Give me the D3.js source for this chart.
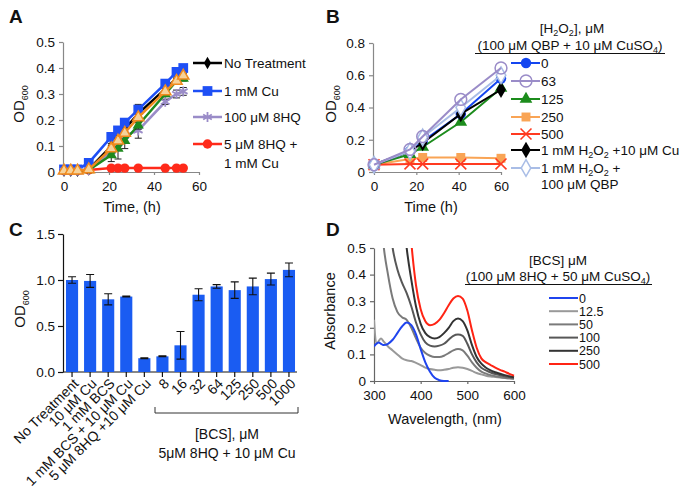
<!DOCTYPE html>
<html><head><meta charset="utf-8">
<script src="https://cdn.jsdelivr.net/npm/d3@7"></script>
<style>body{margin:0;background:#fff}</style>
</head><body><svg id="c" width="690" height="499"></svg>
<script>
// ---------- Panel A data ----------
const timesA = [0,3,6,11,21,24,27,33,45,50,53];
const aNoTreatment = [0.005,0.005,0.005,0.01,0.10,0.13,0.165,0.225,0.32,0.36,0.38];
const aNoTreatmentErr = [0,0,0,0,0.01,0.01,0.01,0.035,0.01,0.01,0.01];
const aCu1mM = [0.01,0.01,0.01,0.035,0.135,0.16,0.19,0.24,0.34,0.385,0.40];
const aCu1mMErr = [0,0,0,0,0.01,0.01,0.01,0.01,0.01,0.01,0.01];
const aHQ100 = [0.005,0.005,0.005,0.008,0.08,0.11,0.14,0.16,0.27,0.30,0.31];
const aHQ100Err = [0,0,0,0,0.01,0.01,0.01,0.03,0.01,0.015,0.015];
const aHQCu = [0.005,0.005,0.005,0.008,0.015,0.015,0.015,0.015,0.015,0.015,0.015];
const aGreen = [0.005,0.005,0.005,0.008,0.065,0.09,0.12,0.18,0.30,0.35,0.36];
const aGreenErr = [0,0,0,0,0.025,0.04,0.03,0.015,0.01,0.01,0.01];
const aOrange = [0.005,0.005,0.005,0.01,0.09,0.12,0.15,0.21,0.31,0.35,0.37];
const ticksA_y = [0,0.1,0.2,0.3,0.4,0.5];
const ticksA_x = [0,20,40,60];

// ---------- Panel B data ----------
const timesB = [0,17,23,41,60];
const bH2O2_0 = [0.045,0.13,0.19,0.36,0.58];
const bH2O2_63 = [0.045,0.14,0.22,0.45,0.645];
const bH2O2_125 = [0.045,0.11,0.155,0.31,0.52];
const bH2O2_250 = [0.045,0.08,0.09,0.09,0.085];
const bH2O2_500 = [0.045,0.05,0.05,0.05,0.05];
const bH2O2Cu = [0.045,0.13,0.18,0.36,0.51];
const bH2O2QBP = [0.045,0.13,0.215,0.40,0.60];
const ticksB_y = [0,0.2,0.4,0.6,0.8];
const ticksB_x = [0,20,40,60];

// ---------- Panel C data ----------
const catsC = ["No Treatment","10 \u03bcM Cu","1 mM BCS","1 mM BCS + 10 \u03bcM Cu","5 \u03bcM 8HQ +10 \u03bcM Cu","8","16","32","64","125","250","500","1000"];
const valsC = [1.00,0.99,0.79,0.82,0.15,0.17,0.29,0.84,0.93,0.89,0.93,1.01,1.11];
const errC = [0.035,0.07,0.06,0.005,0.005,0.005,0.15,0.065,0.02,0.09,0.09,0.065,0.075];
const ticksC_y = [0,0.5,1.0,1.5];

// ---------- Panel D data ----------
const wlD = [300,305,310,315,320,330,340,350,360,370,380,390,400,410,420,430,440,450,460,470,480,490,500,510,520,530,540,550,560,570,580,590,600];
const dBCS0 = [0.13,0.14,0.145,0.14,0.135,0.14,0.155,0.18,0.205,0.22,0.21,0.175,0.12,0.07,0.035,0.012,0.003,0,0,null,null,null,null,null,null,null,null,null,null,null,null,null,null];
const dBCS12 = [0.23,0.14,0.15,0.16,0.15,0.13,0.115,0.10,0.085,0.078,0.075,0.068,0.06,0.05,0.045,0.042,0.04,0.042,0.045,0.05,0.052,0.05,0.045,0.038,0.03,0.025,0.02,0.017,0.015,0.013,0.011,0.01,0.008];
const dBCS50 = [1.0,0.88,0.75,0.63,0.52,0.40,0.31,0.26,0.24,0.23,0.20,0.16,0.125,0.105,0.095,0.09,0.09,0.095,0.105,0.115,0.12,0.115,0.095,0.07,0.05,0.035,0.028,0.022,0.018,0.015,0.012,0.01,0.008];
const dBCS100 = [1.4,1.25,1.1,0.97,0.85,0.65,0.5,0.42,0.37,0.33,0.28,0.22,0.175,0.145,0.133,0.13,0.133,0.14,0.155,0.17,0.175,0.17,0.14,0.10,0.07,0.05,0.04,0.032,0.026,0.022,0.018,0.015,0.012];
const dBCS250 = [2.2,2.0,1.85,1.7,1.55,1.3,1.1,0.9,0.68,0.5,0.38,0.28,0.215,0.18,0.165,0.16,0.165,0.18,0.2,0.225,0.235,0.225,0.19,0.135,0.09,0.065,0.05,0.04,0.033,0.027,0.022,0.018,0.014];
const dBCS500 = [3,2.8,2.6,2.4,2.2,1.9,1.6,1.3,1.0,0.75,0.52,0.36,0.27,0.225,0.21,0.215,0.23,0.255,0.285,0.31,0.32,0.31,0.265,0.19,0.125,0.085,0.07,0.06,0.05,0.042,0.035,0.027,0.02];
const legendD = ["0","12.5","50","100","250","500"];
const ticksD_y = [0,0.1,0.2,0.3,0.4,0.5];
const ticksD_x = [300,400,500,600];

const FONT = '"Liberation Sans", Arial, Helvetica, sans-serif';
const svg = d3.select("#c").attr("font-family", FONT);

function styleAxis(g, col) {
  g.attr("font-family", FONT).attr("font-size", 13.5);
  g.select(".domain").attr("stroke", col).attr("stroke-width", 1.2);
  g.selectAll(".tick line").attr("stroke", col).attr("stroke-width", 1.2);
  g.selectAll(".tick text").attr("fill", "#111");
}
const fmt1 = d => d === 0 ? "0" : d3.format(".1f")(d);

function odLabel(x, y) {
  const t = svg.append("text").attr("transform", `translate(${x},${y}) rotate(-90)`)
    .attr("text-anchor", "middle").attr("font-size", 15).attr("fill", "#111");
  t.append("tspan").text("OD");
  t.append("tspan").attr("font-size", 9).attr("dy", 4).text("600");
  return t;
}
function letter(s, x, y) {
  svg.append("text").attr("x", x).attr("y", y).attr("font-weight", "bold").attr("font-size", 19).attr("fill", "#111").text(s);
}
function drawSym(g, x, y, s) {
  const p = g.append("path").attr("transform", `translate(${x},${y})`)
    .attr("d", d3.symbol().type(s.sym).size(s.size)());
  if (s.open) p.attr("fill", s.fill || "#fff").attr("stroke", s.color).attr("stroke-width", s.sw || 1.5);
  else if (s.strokeOnly) p.attr("fill", "none").attr("stroke", s.color).attr("stroke-width", s.sw || 1.8);
  else p.attr("fill", s.color).attr("stroke", "none");
}

// ================= Panel A =================
letter("A", 9, 23);
const xA = d3.scaleLinear().domain([0, 60]).range([64, 199]);
const yA = d3.scaleLinear().domain([0, 0.5]).range([172, 42]);
styleAxis(svg.append("g").attr("transform", "translate(63,0)")
  .call(d3.axisLeft(yA).tickValues(ticksA_y).tickFormat(fmt1).tickSize(4).tickSizeOuter(0).tickPadding(4)), "#888");
styleAxis(svg.append("g").attr("transform", "translate(0,172)")
  .call(d3.axisBottom(xA).tickValues(ticksA_x).tickSize(3).tickSizeOuter(0).tickPadding(6)), "#888");
svg.append("text").attr("x", 132).attr("y", 212).attr("text-anchor", "middle").attr("font-size", 14.5).attr("fill", "#111").text("Time, (h)");
odLabel(24, 104);

const seriesA = [
  {v: aHQCu, e: null, color: "#ff2a1a", sym: d3.symbolCircle, size: 70},
  {v: aNoTreatment, e: aNoTreatmentErr, color: "#000", sym: d3.symbolDiamond, size: 45},
  {v: aCu1mM, e: aCu1mMErr, color: "#1e4ff5", sym: d3.symbolSquare, size: 95},
  {v: aHQ100, e: aHQ100Err, color: "#9a8cc8", sym: d3.symbolAsterisk, size: 70, strokeOnly: true},
  {v: aGreen, e: aGreenErr, color: "#1e8a1e", sym: d3.symbolTriangle, size: 55},
  {v: aOrange, e: null, color: "#f08a1e", sym: d3.symbolTriangle, size: 55, open: true, fill: "#f6d29a"}
];
const gA = svg.append("g");
seriesA.forEach(s => {
  const pts = timesA.map((t, i) => [t, s.v[i]]);
  gA.append("path").attr("d", d3.line().x(d => xA(d[0])).y(d => yA(d[1]))(pts))
    .attr("fill", "none").attr("stroke", s.color).attr("stroke-width", 2.5);
  if (s.e) pts.forEach((d, i) => {
    if (!s.e[i]) return;
    const x = xA(d[0]), y1 = yA(d[1] - s.e[i]), y2 = yA(d[1] + s.e[i]);
    gA.append("path").attr("d", `M${x},${y1}V${y2}M${x-3.5},${y1}h7M${x-3.5},${y2}h7`).attr("stroke", "#222").attr("stroke-width", 1);
  });
  pts.forEach(d => drawSym(gA, xA(d[0]), yA(d[1]), s));
});
const legA = [
  {s: seriesA[1], y: 63, t: ["No Treatment"]},
  {s: seriesA[2], y: 91, t: ["1 mM Cu"]},
  {s: seriesA[3], y: 117, t: ["100 \u03bcM 8HQ"]},
  {s: seriesA[0], y: 144, t: ["5 \u03bcM 8HQ +", "1 mM Cu"]}
];
legA.forEach(l => {
  svg.append("line").attr("x1", 193).attr("x2", 222).attr("y1", l.y).attr("y2", l.y).attr("stroke", l.s.color).attr("stroke-width", 2.5);
  drawSym(svg, 207.5, l.y, l.s);
  l.t.forEach((tt, k) => svg.append("text").attr("x", 224).attr("y", l.y + 5 + k * 18.5).attr("font-size", 13.5).attr("fill", "#111").text(tt));
});

// ================= Panel B =================
letter("B", 326, 23);
const xB = d3.scaleLinear().domain([0, 60]).range([374, 501]);
const yB = d3.scaleLinear().domain([0, 0.8]).range([172, 43]);
styleAxis(svg.append("g").attr("transform", "translate(373,0)")
  .call(d3.axisLeft(yB).tickValues(ticksB_y).tickFormat(fmt1).tickSize(4).tickSizeOuter(0).tickPadding(4)), "#888");
styleAxis(svg.append("g").attr("transform", "translate(0,172)")
  .call(d3.axisBottom(xB).tickValues(ticksB_x).tickSize(3).tickSizeOuter(0).tickPadding(6)), "#888");
svg.append("text").attr("x", 431).attr("y", 212).attr("text-anchor", "middle").attr("font-size", 14.5).attr("fill", "#111").text("Time (h)");
odLabel(336, 104);

const sB = {
  s250: {v: bH2O2_250, color: "#f9a455", sym: d3.symbolSquare, size: 80},
  s500: {v: bH2O2_500, color: "#ff3a20", sym: d3.symbolTimes, size: 80, strokeOnly: true, sw: 1.6},
  s125: {v: bH2O2_125, color: "#1c8c1c", sym: d3.symbolTriangle, size: 70},
  s0: {v: bH2O2_0, color: "#1446f0", sym: d3.symbolCircle, size: 85},
  sCu: {v: bH2O2Cu, color: "#000", sym: d3.symbolDiamond, size: 80},
  sQBP: {v: bH2O2QBP, color: "#a9bde6", sym: d3.symbolDiamond, size: 80, open: true, fill: "#fff"},
  s63: {v: bH2O2_63, color: "#9a8cc8", sym: d3.symbolCircle, size: 110, open: true, fill: "none"}
};
const gB = svg.append("g");
["s250", "s500", "s125", "s0", "sCu", "sQBP", "s63"].forEach(k => {
  const s = sB[k];
  const pts = timesB.map((t, i) => [t, s.v[i]]);
  gB.append("path").attr("d", d3.line().x(d => xB(d[0])).y(d => yB(d[1]))(pts))
    .attr("fill", "none").attr("stroke", s.color).attr("stroke-width", 2);
  pts.forEach(d => drawSym(gB, xB(d[0]), yB(d[1]), s));
});
// legend B
const tB1 = svg.append("text").attr("x", 572).attr("y", 33).attr("text-anchor", "middle").attr("font-size", 13.5).attr("fill", "#111");
tB1.append("tspan").text("[H");
tB1.append("tspan").attr("font-size", 9).attr("dy", 3).text("2");
tB1.append("tspan").attr("dy", -3).text("O");
tB1.append("tspan").attr("font-size", 9).attr("dy", 3).text("2");
tB1.append("tspan").attr("dy", -3).text("], \u03bcM");
const tB2 = svg.append("text").attr("x", 570).attr("y", 50).attr("text-anchor", "middle").attr("font-size", 13.5).attr("fill", "#111");
tB2.append("tspan").text("(100 \u03bcM QBP + 10 \u03bcM CuSO");
tB2.append("tspan").attr("font-size", 9).attr("dy", 3).text("4");
tB2.append("tspan").attr("dy", -3).text(")");
svg.append("line").attr("x1", 475).attr("x2", 665).attr("y1", 53.5).attr("y2", 53.5).attr("stroke", "#111").attr("stroke-width", 1);
const legB = [
  {k: "s0", y: 63, t: "0"}, {k: "s63", y: 81, t: "63"}, {k: "s125", y: 99, t: "125"},
  {k: "s250", y: 117, t: "250"}, {k: "s500", y: 134, t: "500"}, {k: "sCu", y: 150}, {k: "sQBP", y: 168}
];
legB.forEach(l => {
  const s = sB[l.k];
  svg.append("line").attr("x1", 511).attr("x2", 540).attr("y1", l.y).attr("y2", l.y).attr("stroke", s.color).attr("stroke-width", 2);
  drawSym(svg, 526, l.y, s);
  const t = svg.append("text").attr("x", 541).attr("y", l.y + 5).attr("font-size", 13.5).attr("fill", "#111");
  if (l.t) t.text(l.t);
  else {
    t.append("tspan").text("1 mM H");
    t.append("tspan").attr("font-size", 9).attr("dy", 3).text("2");
    t.append("tspan").attr("dy", -3).text("O");
    t.append("tspan").attr("font-size", 9).attr("dy", 3).text("2");
    t.append("tspan").attr("dy", -3).text(l.k === "sCu" ? " +10 \u03bcM Cu" : " +");
  }
});
svg.append("text").attr("x", 541).attr("y", 189).attr("font-size", 13.5).attr("fill", "#111").text("100 \u03bcM QBP");

// ================= Panel C =================
letter("C", 9, 236);
const xC = d3.scaleBand().domain(catsC).range([63, 298]).paddingInner(0.33).paddingOuter(0.165);
const yC = d3.scaleLinear().domain([0, 1.5]).range([372, 234]);
styleAxis(svg.append("g").attr("transform", "translate(63,0)")
  .call(d3.axisLeft(yC).tickValues(ticksC_y).tickFormat(d3.format(".1f")).tickSize(5).tickSizeOuter(0).tickPadding(3)), "#111");
const gxC = svg.append("g").attr("transform", "translate(0,372)")
  .call(d3.axisBottom(xC).tickSize(5).tickSizeOuter(0).tickFormat(""));
styleAxis(gxC, "#111");
gxC.select(".domain").attr("d", "M63,0H297");
const gC = svg.append("g");
catsC.forEach((c, i) => {
  const x = xC(c), w = xC.bandwidth(), cx = x + w / 2;
  gC.append("rect").attr("x", x).attr("width", w).attr("y", yC(valsC[i])).attr("height", yC(0) - yC(valsC[i])).attr("fill", "#1a5cf2");
  const y1 = yC(valsC[i] - errC[i]), y2 = yC(valsC[i] + errC[i]);
  gC.append("path").attr("d", `M${cx},${y1}V${y2}M${cx-4},${y1}h8M${cx-4},${y2}h8`).attr("stroke", "#111").attr("stroke-width", 1.1).attr("fill", "none");
  svg.append("text").attr("transform", `translate(${cx + 4},${381}) rotate(-45)`).attr("text-anchor", "end")
    .attr("dy", "0.35em").attr("font-size", 14).attr("fill", "#111").text(c);
});
odLabel(25, 309);
svg.append("path").attr("d", "M155,407V413H298V407").attr("fill", "none").attr("stroke", "#333").attr("stroke-width", 1);
svg.append("text").attr("x", 227).attr("y", 439).attr("text-anchor", "middle").attr("font-size", 14).attr("fill", "#111").text("[BCS], \u03bcM");
svg.append("text").attr("x", 227).attr("y", 458).attr("text-anchor", "middle").attr("font-size", 14).attr("fill", "#111").text("5\u03bcM 8HQ + 10 \u03bcM Cu");

// ================= Panel D =================
letter("D", 326, 236);
const xD = d3.scaleLinear().domain([300, 600]).range([374, 514]);
const yD = d3.scaleLinear().domain([0, 0.5]).range([381, 248]);
styleAxis(svg.append("g").attr("transform", "translate(374,0)")
  .call(d3.axisLeft(yD).tickValues(ticksD_y).tickFormat(fmt1).tickSize(4).tickSizeOuter(0).tickPadding(4)), "#666");
styleAxis(svg.append("g").attr("transform", "translate(0,381)")
  .call(d3.axisBottom(xD).tickValues(ticksD_x).tickSize(3).tickSizeOuter(0).tickPadding(6)), "#666");
svg.append("text").attr("x", 445).attr("y", 424).attr("text-anchor", "middle").attr("font-size", 14.5).attr("fill", "#111").text("Wavelength, (nm)");
svg.append("text").attr("transform", "translate(335,311) rotate(-90)").attr("text-anchor", "middle").attr("font-size", 14.5).attr("fill", "#111").text("Absorbance");
svg.append("clipPath").attr("id", "clipD").append("rect").attr("x", 374).attr("y", 248).attr("width", 141).attr("height", 134);
const seriesD = [
  {v: dBCS12, color: "#999999"}, {v: dBCS50, color: "#7a7a7a"}, {v: dBCS100, color: "#575757"},
  {v: dBCS250, color: "#333333"}, {v: dBCS500, color: "#ff2414"}, {v: dBCS0, color: "#1f44ee"}
];
const gD = svg.append("g").attr("clip-path", "url(#clipD)");
const lineD = d3.line().defined(d => d[1] !== null).x(d => xD(d[0])).y(d => yD(d[1])).curve(d3.curveMonotoneX);
seriesD.forEach(s => {
  gD.append("path").attr("d", lineD(wlD.map((w, i) => [w, s.v[i]])))
    .attr("fill", "none").attr("stroke", s.color).attr("stroke-width", 2);
});
svg.append("text").attr("x", 558).attr("y", 265).attr("text-anchor", "middle").attr("font-size", 13.5).attr("fill", "#111").text("[BCS] \u03bcM");
const tD2 = svg.append("text").attr("x", 558).attr("y", 281).attr("text-anchor", "middle").attr("font-size", 13.5).attr("fill", "#111");
tD2.append("tspan").text("(100 \u03bcM 8HQ + 50 \u03bcM CuSO");
tD2.append("tspan").attr("font-size", 9).attr("dy", 3).text("4");
tD2.append("tspan").attr("dy", -3).text(")");
svg.append("line").attr("x1", 465).attr("x2", 652).attr("y1", 284.5).attr("y2", 284.5).attr("stroke", "#111").attr("stroke-width", 1);
const legDcolors = ["#1f44ee", "#999999", "#7a7a7a", "#575757", "#333333", "#ff2414"];
legendD.forEach((t, i) => {
  const y = 298 + i * 13.2;
  svg.append("line").attr("x1", 549).attr("x2", 578).attr("y1", y).attr("y2", y).attr("stroke", legDcolors[i]).attr("stroke-width", 2);
  svg.append("text").attr("x", 579).attr("y", y + 4.5).attr("font-size", 12.5).attr("fill", "#111").text(t);
});
</script></body></html>
